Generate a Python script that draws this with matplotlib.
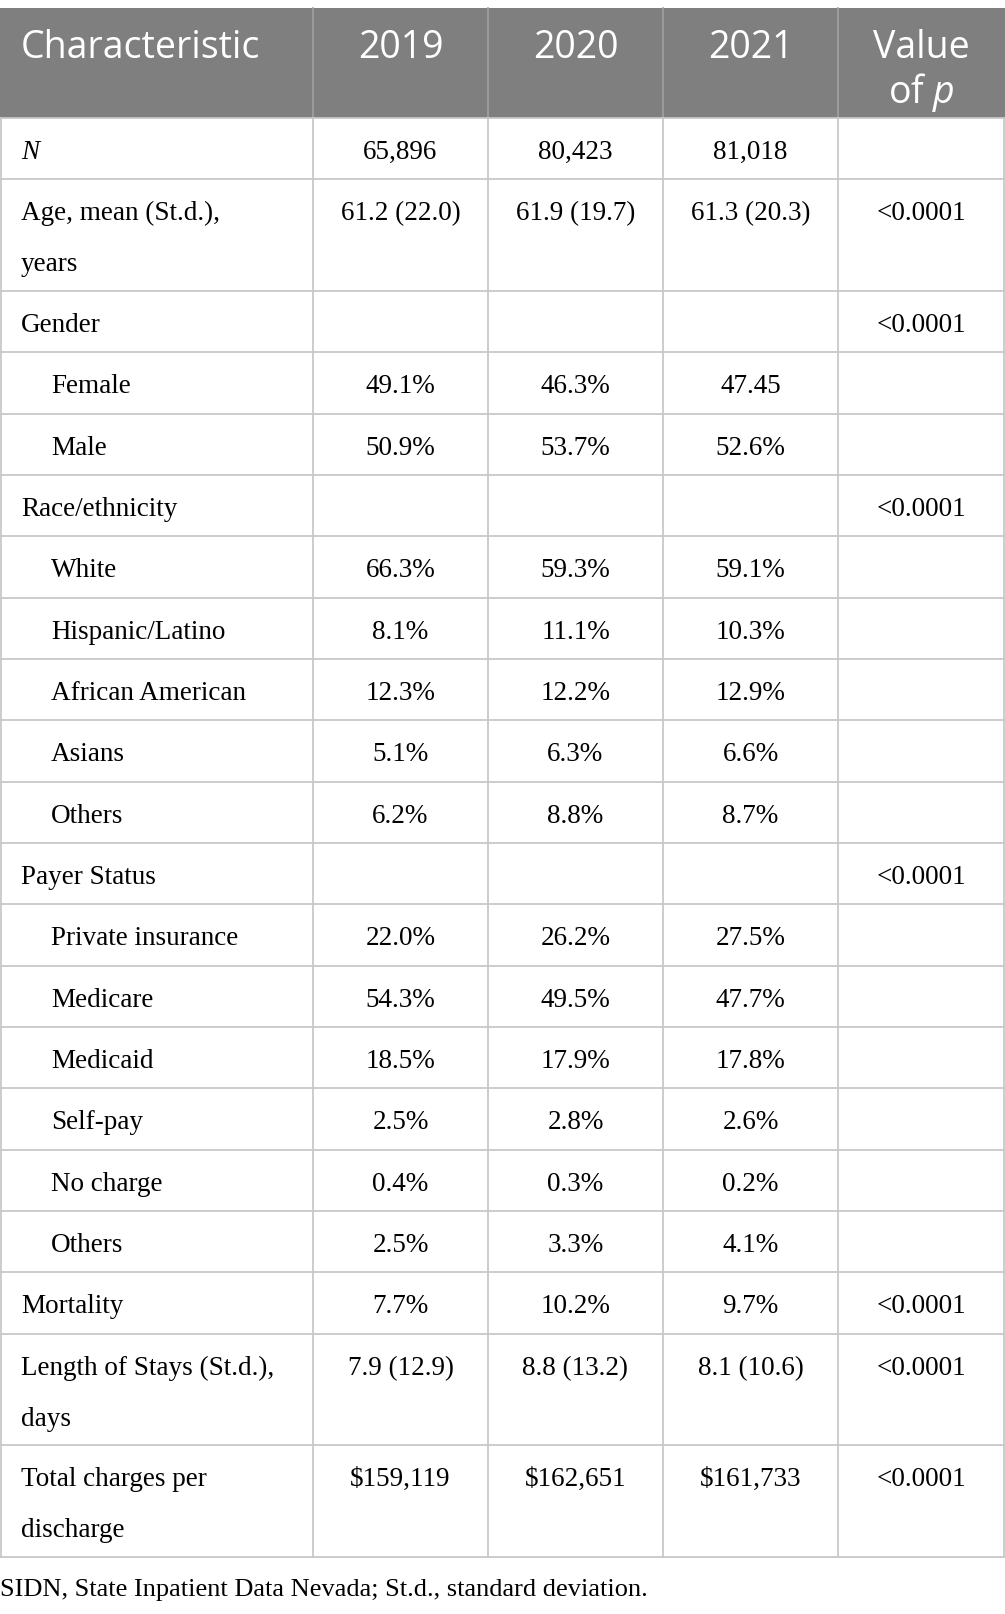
import matplotlib.pyplot as plt

plt.rcParams['mathtext.fontset'] = 'custom'
plt.rcParams['mathtext.it'] = 'Open Sans:italic'
plt.rcParams['mathtext.rm'] = 'Open Sans'

# table content
header = ["Characteristic", "2019", "2020", "2021", "Value\nof $p$"]
labels = ["N", "Age, mean (St.d.),\nyears", "Gender", "Female", "Male",
          "Race/ethnicity", "White", "Hispanic/Latino", "African American",
          "Asians", "Others", "Payer Status", "Private insurance", "Medicare",
          "Medicaid", "Self-pay", "No charge", "Others", "Mortality",
          "Length of Stays (St.d.),\ndays", "Total charges per\ndischarge"]
indent = [0, 0, 0, 1, 1, 0, 1, 1, 1, 1, 1, 0, 1, 1, 1, 1, 1, 1, 0, 0, 0]
v2019 = ["65,896", "61.2 (22.0)", "", "49.1%", "50.9%", "", "66.3%", "8.1%",
         "12.3%", "5.1%", "6.2%", "", "22.0%", "54.3%", "18.5%", "2.5%",
         "0.4%", "2.5%", "7.7%", "7.9 (12.9)", "$159,119"]
v2020 = ["80,423", "61.9 (19.7)", "", "46.3%", "53.7%", "", "59.3%", "11.1%",
         "12.2%", "6.3%", "8.8%", "", "26.2%", "49.5%", "17.9%", "2.8%",
         "0.3%", "3.3%", "10.2%", "8.8 (13.2)", "$162,651"]
v2021 = ["81,018", "61.3 (20.3)", "", "47.45", "52.6%", "", "59.1%", "10.3%",
         "12.9%", "6.6%", "8.7%", "", "27.5%", "47.7%", "17.8%", "2.6%",
         "0.2%", "4.1%", "9.7%", "8.1 (10.6)", "$161,733"]
pvals = ["", "<0.0001", "<0.0001", "", "", "<0.0001", "", "", "", "", "",
         "<0.0001", "", "", "", "", "", "", "<0.0001", "<0.0001", "<0.0001"]
footnote = "SIDN, State Inpatient Data Nevada; St.d., standard deviation."

W, H = 1005, 1614
col_edges = [0, 313, 488, 663, 838, 1005]
top = 8
header_h = 110
single_h = 61.35
double_h = 111.5
grid_color = '#c8c8c8'
head_color = '#7f7f7f'
serif = 'Liberation Serif'
sans = 'Open Sans'
hsize = 27
bsize = 19.5

fig = plt.figure(figsize=(W / 100, H / 100), dpi=100)
ax = fig.add_axes([0, 0, 1, 1])
ax.set_xlim(0, W)
ax.set_ylim(H, 0)
ax.axis('off')

# header
ax.add_patch(plt.Rectangle((0, top), W, header_h, color=head_color, lw=0))
for i, h in enumerate(header):
    x0, x1 = col_edges[i], col_edges[i + 1]
    if i == 0:
        ax.text(21, top + 40, h, color='white', fontsize=hsize, family=sans,
                ha='left', va='center')
    elif i < 4:
        ax.text((x0 + x1) / 2, top + 40, h, color='white', fontsize=hsize,
                family=sans, ha='center', va='center')
    else:
        ax.text((x0 + x1) / 2, top + 40, "Value", color='white', fontsize=hsize,
                family=sans, ha='center', va='center')
        ax.text((x0 + x1) / 2, top + 84, "of $p$", color='white', fontsize=hsize,
                family=sans, ha='center', va='center')
for x in col_edges[1:-1]:
    ax.plot([x, x], [top, top + header_h], color='#a0a0a0', lw=1.2)

# body
y = top + header_h
row_tops = []
for lab in labels:
    row_tops.append(y)
    y += double_h if '\n' in lab else single_h
bottom = y

for r, lab in enumerate(labels):
    yt = row_tops[r]
    lines = lab.split('\n')
    for k, line in enumerate(lines):
        ax.text(21 + 30 * indent[r], yt + 34.5 + 51 * k, line, fontsize=bsize,
                family=serif, ha='left', va='center',
                fontstyle='italic' if lab == 'N' else 'normal')
    for c, vals in enumerate([v2019, v2020, v2021, pvals]):
        xc = (col_edges[c + 1] + col_edges[c + 2]) / 2
        ax.text(xc, yt + 34.5, vals[r], fontsize=bsize, family=serif,
                ha='center', va='center')

# grid lines
for yt in row_tops[1:] + [bottom]:
    ax.plot([0, W], [yt, yt], color=grid_color, lw=1.3)
ax.plot([0, W], [top + header_h, top + header_h], color=grid_color, lw=1.3)
for x in col_edges:
    xx = min(max(x, 0.7), W - 0.7)
    ax.plot([xx, xx], [top + header_h, bottom], color=grid_color, lw=1.3)

ax.text(0, bottom + 33, footnote, fontsize=19, family=serif,
        ha='left', va='center')

fig.savefig('out.png', dpi=100)
